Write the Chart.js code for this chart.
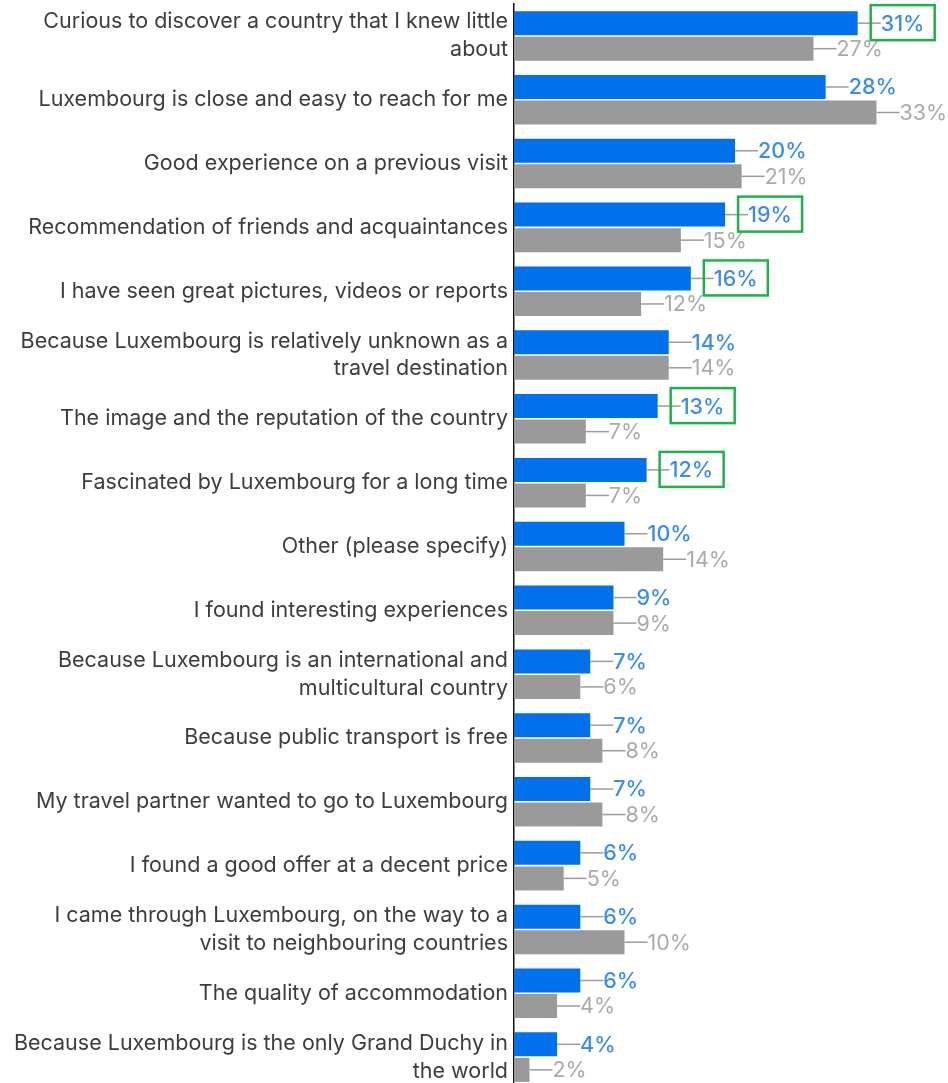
<!DOCTYPE html>
<html>
<head>
<meta charset="utf-8">
<script src="https://cdn.jsdelivr.net/npm/chart.js@4.4.1/dist/chart.umd.min.js"></script>
<style>
  html, body { margin: 0; padding: 0; background: #fff; overflow: hidden; }
  #wrap { width: 948px; height: 1093px; }
</style>
</head>
<body>
<div id="wrap"><canvas id="c" width="948" height="1093"></canvas></div>
<script>
const categories = [
  ["Curious to discover a country that I knew little", "about"],
  "Luxembourg is close and easy to reach for me",
  "Good experience on a previous visit",
  "Recommendation of friends and acquaintances",
  "I have seen great pictures, videos or reports",
  ["Because Luxembourg is relatively unknown as a", "travel destination"],
  "The image and the reputation of the country",
  "Fascinated by Luxembourg for a long time",
  "Other (please specify)",
  "I found interesting experiences",
  ["Because Luxembourg is an international and", "multicultural country"],
  "Because public transport is free",
  "My travel partner wanted to go to Luxembourg",
  "I found a good offer at a decent price",
  ["I came through Luxembourg, on the way to a", "visit to neighbouring countries"],
  "The quality of accommodation",
  ["Because Luxembourg is the only Grand Duchy in", "the world"]
];
const seriesBlue = [31.1, 28.2, 20.0, 19.1, 16.0, 14.0, 13.0, 12.0, 10.0, 9.0, 6.9, 6.9, 6.9, 6.0, 6.0, 6.0, 3.9];
const seriesGray = [27.1, 32.8, 20.6, 15.1, 11.5, 14.0, 6.5, 6.5, 13.5, 9.0, 6.0, 8.0, 8.0, 4.5, 10.0, 3.9, 1.4];
const labelsBlue = ["31%","28%","20%","19%","16%","14%","13%","12%","10%","9%","7%","7%","7%","6%","6%","6%","4%"];
const labelsGray = ["27%","33%","21%","15%","12%","14%","7%","7%","14%","9%","6%","8%","8%","5%","10%","4%","2%"];
const highlighted = [0, 3, 4, 6, 7];

const valueLabels = {
  id: 'valueLabels',
  afterDatasetsDraw(chart) {
    const ctx = chart.ctx;
    const sets = [
      { meta: chart.getDatasetMeta(0), labels: labelsBlue, color: '#3b8cf0', weight: '500' },
      { meta: chart.getDatasetMeta(1), labels: labelsGray, color: '#aaaaaa', weight: '400' }
    ];
    ctx.save();
    sets.forEach(s => {
      s.meta.data.forEach((bar, i) => {
        const x = bar.x, y = bar.y;
        ctx.strokeStyle = '#9c9c9c';
        ctx.lineWidth = 1.5;
        ctx.beginPath();
        ctx.moveTo(x, y);
        ctx.lineTo(x + 23, y);
        ctx.stroke();
        ctx.fillStyle = s.color;
        ctx.font = s.weight + ' 21.5px Inter';
        ctx.textAlign = 'left';
        ctx.textBaseline = 'middle';
        ctx.fillText(s.labels[i], x + 23, y + 1);
      });
    });
    const m0 = chart.getDatasetMeta(0);
    ctx.strokeStyle = '#1db04c';
    ctx.lineWidth = 2.5;
    highlighted.forEach(i => {
      const bar = m0.data[i];
      ctx.strokeRect(bar.x + 13, bar.y - 18, 64, 35);
    });
    ctx.restore();
  }
};

new Chart(document.getElementById('c'), {
  type: 'bar',
  data: {
    labels: categories,
    datasets: [
      { label: 'A', data: seriesBlue, backgroundColor: '#0071eb', categoryPercentage: 0.8, barPercentage: 0.94 },
      { label: 'B', data: seriesGray, backgroundColor: '#9a9a9a', categoryPercentage: 0.8, barPercentage: 0.94 }
    ]
  },
  options: {
    indexAxis: 'y',
    responsive: false,
    animation: false,
    devicePixelRatio: 1,
    layout: { padding: { top: 4, bottom: 4, right: 3, left: 0 } },
    plugins: { legend: { display: false }, tooltip: { enabled: false } },
    scales: {
      x: { display: false, min: 0, max: 39 },
      y: {
        grid: { display: false, drawTicks: false, tickLength: 0 },
        border: { display: true, color: '#111', width: 1.5 },
        ticks: {
          padding: 6,
          color: '#3d3d3d',
          font: { family: 'Inter', size: 21.5, lineHeight: 1.3 },
          autoSkip: false
        },
        afterFit(scale) {
          scale.width = 514;
          scale.paddingTop = 0;
          scale.paddingBottom = 0;
        }
      }
    }
  },
  plugins: [valueLabels]
});
</script>
</body>
</html>
